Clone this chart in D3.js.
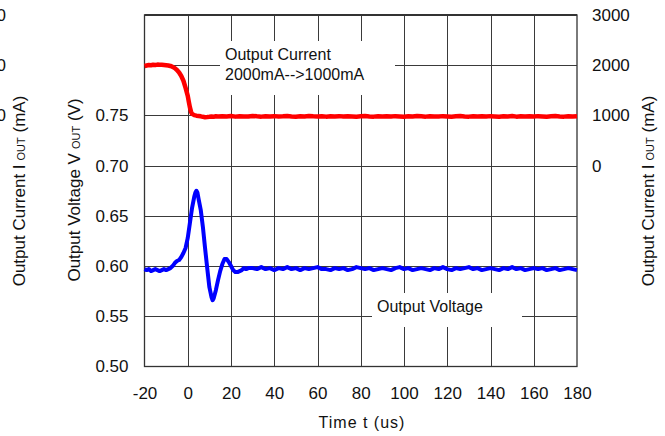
<!DOCTYPE html>
<html><head><meta charset="utf-8">
<script src="https://cdn.jsdelivr.net/npm/d3@7"></script>
<style>
body{margin:0;background:#fff;}
svg{font-family:"Liberation Sans",Arial,sans-serif;}
</style></head>
<body><svg id="c" width="665" height="436"></svg>
<script>
const xTicks = [-20,0,20,40,60,80,100,120,140,160,180];
const vTicks = [0.50,0.55,0.60,0.65,0.70,0.75];
const vGrid = [0.55,0.60,0.65,0.70,0.75,0.80];
const iTicks = [0,1000,2000,3000];
const iClipped = [1000,2000,3000];

const timeV = [-20,-19,-18,-17,-16,-15,-14,-13,-12,-11,-10,-9,-8,-7,-6,-5,-4,-3,-2,-1,0,1,2,3,3.5,4,4.5,5,6,7,8,9,10,11,11.5,12,13,14,15,16,17,18,19,20,21,22,23,24,25,26,27,28,
30,32,34,36,38,40,42,44,46,48,50,52,54,56,58,60,62,64,66,68,70,72,74,76,78,80,82,84,86,88,90,92,94,96,98,100,102,104,106,108,110,112,114,116,118,120,122,124,126,128,130,132,134,136,138,140,142,144,146,148,150,152,154,156,158,160,162,164,166,168,170,172,174,176,178,180];
const voltage = [0.597,0.596,0.597,0.595,0.596,0.597,0.596,0.595,0.596,0.597,0.596,0.597,0.598,0.600,0.603,0.605,0.606,0.609,0.613,0.618,0.628,0.643,0.658,0.669,0.673,0.675,0.673,0.667,0.656,0.639,0.618,0.598,0.579,0.569,0.566,0.568,0.576,0.586,0.595,0.602,0.607,0.607,0.604,0.600,0.596,0.594,0.594,0.595,0.596,0.598,0.597,0.598,
0.598,0.597,0.599,0.597,0.598,0.596,0.598,0.597,0.599,0.597,0.598,0.596,0.598,0.597,0.598,0.599,0.597,0.597,0.596,0.598,0.597,0.598,0.596,0.597,0.599,0.598,0.597,0.598,0.596,0.597,0.598,0.597,0.596,0.598,0.599,0.597,0.598,0.596,0.597,0.598,0.597,0.596,0.598,0.597,0.599,0.597,0.596,0.598,0.597,0.598,0.599,0.597,0.598,0.596,0.597,0.598,0.597,0.596,0.598,0.597,0.599,0.597,0.598,0.596,0.597,0.598,0.597,0.598,0.596,0.597,0.598,0.596,0.597,0.598,0.597,0.596];

const timeI = [-20,-19,-18,-17,-16,-15,-14,-13,-12,-11,-10,-9,-8,-7,-6,-5,-4,-3,-2,-1,0,0.5,1,1.5,2,3,4,5,6,7,8,9,10,11,12,13,14,
16,18,20,22,24,26,28,30,32,34,36,38,40,42,44,46,48,50,52,54,56,58,60,62,64,66,68,70,72,74,76,78,80,82,84,86,88,90,92,94,96,98,100,102,104,106,108,110,112,114,116,118,120,122,124,126,128,130,132,134,136,138,140,142,144,146,148,150,152,154,156,158,160,162,164,166,168,170,172,174,176,178,180];
const current = [1985,1995,2005,2000,2010,2005,2012,2008,2010,2005,2000,1995,1985,1968,1942,1905,1855,1785,1690,1550,1390,1270,1160,1075,1030,1005,995,990,982,972,965,968,972,978,975,982,978,
985,980,988,976,984,980,978,990,982,976,984,980,986,978,982,988,980,975,984,980,990,982,978,984,976,982,980,986,978,984,980,975,982,988,980,976,984,980,982,978,986,980,975,984,980,988,982,976,984,980,978,986,980,975,982,988,980,976,984,980,982,978,986,980,975,984,980,988,976,982,980,984,978,986,980,975,982,988,980,976,984,980,985,978];

const svg = d3.select("#c");
const L = 144.5, R = 577, T = 15, B = 366.5;
const x = d3.scaleLinear().domain([-20,180]).range([L,R]);
const yV = d3.scaleLinear().domain([0.50,0.85]).range([B,T]);
const yI = d3.scaleLinear().domain([-4000,3000]).range([B,T]);

const gridC = "#3a3a3a";
svg.append("g").selectAll("line").data(xTicks.slice(1,-1)).join("line")
  .attr("x1",d=>Math.round(x(d))+0.5).attr("x2",d=>Math.round(x(d))+0.5)
  .attr("y1",T).attr("y2",B).attr("stroke",gridC).attr("stroke-width",1);
svg.append("g").selectAll("line").data(vGrid).join("line")
  .attr("y1",d=>Math.round(yV(d))+0.5).attr("y2",d=>Math.round(yV(d))+0.5)
  .attr("x1",L).attr("x2",R).attr("stroke",gridC).attr("stroke-width",1);

// annotation boxes (white backgrounds)
svg.append("rect").attr("x",220).attr("y",41).attr("width",175).attr("height",54).attr("fill","#fff");
svg.append("rect").attr("x",372).attr("y",293).attr("width",150).attr("height",34).attr("fill","#fff");

// frame
svg.append("rect").attr("x",L).attr("y",T).attr("width",R-L).attr("height",B-T)
  .attr("fill","none").attr("stroke","#333").attr("stroke-width",1.3);
svg.append("line").attr("x1",L).attr("x2",R).attr("y1",T).attr("y2",T).attr("stroke","#333").attr("stroke-width",2.2);

// lines
const lineI = d3.line().x((d,i)=>x(timeI[i])).y(d=>yI(d));
svg.append("path").datum(current).attr("d",lineI).attr("fill","none")
  .attr("stroke","#ff0000").attr("stroke-width",4.5).attr("stroke-linejoin","round");
const lineV = d3.line().x((d,i)=>x(timeV[i])).y(d=>yV(d));
svg.append("path").datum(voltage).attr("d",lineV).attr("fill","none")
  .attr("stroke","#0000ff").attr("stroke-width",4).attr("stroke-linejoin","round");

// axes
const fs = "17px";
const ax = svg.append("g").attr("transform",`translate(0,${B})`)
  .call(d3.axisBottom(x).tickValues(xTicks).tickSize(0).tickPadding(20).tickFormat(d=>String(d)));
ax.select(".domain").remove();
ax.selectAll("text").attr("font-size",fs).attr("fill","#111").attr("font-family","Liberation Sans, Arial");

const ay = svg.append("g").attr("transform",`translate(${L},0)`)
  .call(d3.axisLeft(yV).tickValues(vTicks).tickSize(0).tickPadding(16).tickFormat(d3.format(".2f")));
ay.select(".domain").remove();
ay.selectAll("text").attr("font-size",fs).attr("fill","#111").attr("font-family","Liberation Sans, Arial");

const ar = svg.append("g").attr("transform",`translate(${R},0)`)
  .call(d3.axisRight(yI).tickValues(iTicks).tickSize(0).tickPadding(15).tickFormat(d=>String(d)));
ar.select(".domain").remove();
ar.selectAll("text").attr("font-size",fs).attr("fill","#111").attr("font-family","Liberation Sans, Arial");

// clipped outer current axis on far left (cut off by the image edge, as in the reference)
const ac = svg.append("g").attr("transform",`translate(6,0)`)
  .call(d3.axisLeft(yI).tickValues(iClipped).tickSize(0).tickPadding(0).tickFormat(d=>String(d)));
ac.select(".domain").remove();
ac.selectAll("text").attr("font-size",fs).attr("fill","#111").attr("font-family","Liberation Sans, Arial");

function vTitle(cx, cy, main, sub, tail){
  const t = svg.append("text").attr("transform",`translate(${cx},${cy}) rotate(-90)`)
    .attr("text-anchor","middle").attr("font-size","17px").attr("fill","#111");
  t.append("tspan").text(main);
  t.append("tspan").attr("font-size","11px").attr("dx","4").text(sub);
  t.append("tspan").text(tail);
}
vTitle(25, 191, "Output Current I", "OUT", " (mA)");
vTitle(80, 190, "Output Voltage V", "OUT", " (V)");
vTitle(654, 191, "Output Current I", "OUT", " (mA)");

svg.append("text").attr("x",362).attr("y",428).attr("text-anchor","middle")
  .attr("font-size","16px").attr("letter-spacing","1px").attr("fill","#111").text("Time t (us)");

svg.append("text").attr("x",225).attr("y",60).attr("font-size","16px").attr("fill","#111").text("Output Current");
svg.append("text").attr("x",225).attr("y",80).attr("font-size","16px").attr("fill","#111").text("2000mA-->1000mA");
svg.append("text").attr("x",377).attr("y",312).attr("font-size","16px").attr("fill","#111").text("Output Voltage");
</script></body></html>
